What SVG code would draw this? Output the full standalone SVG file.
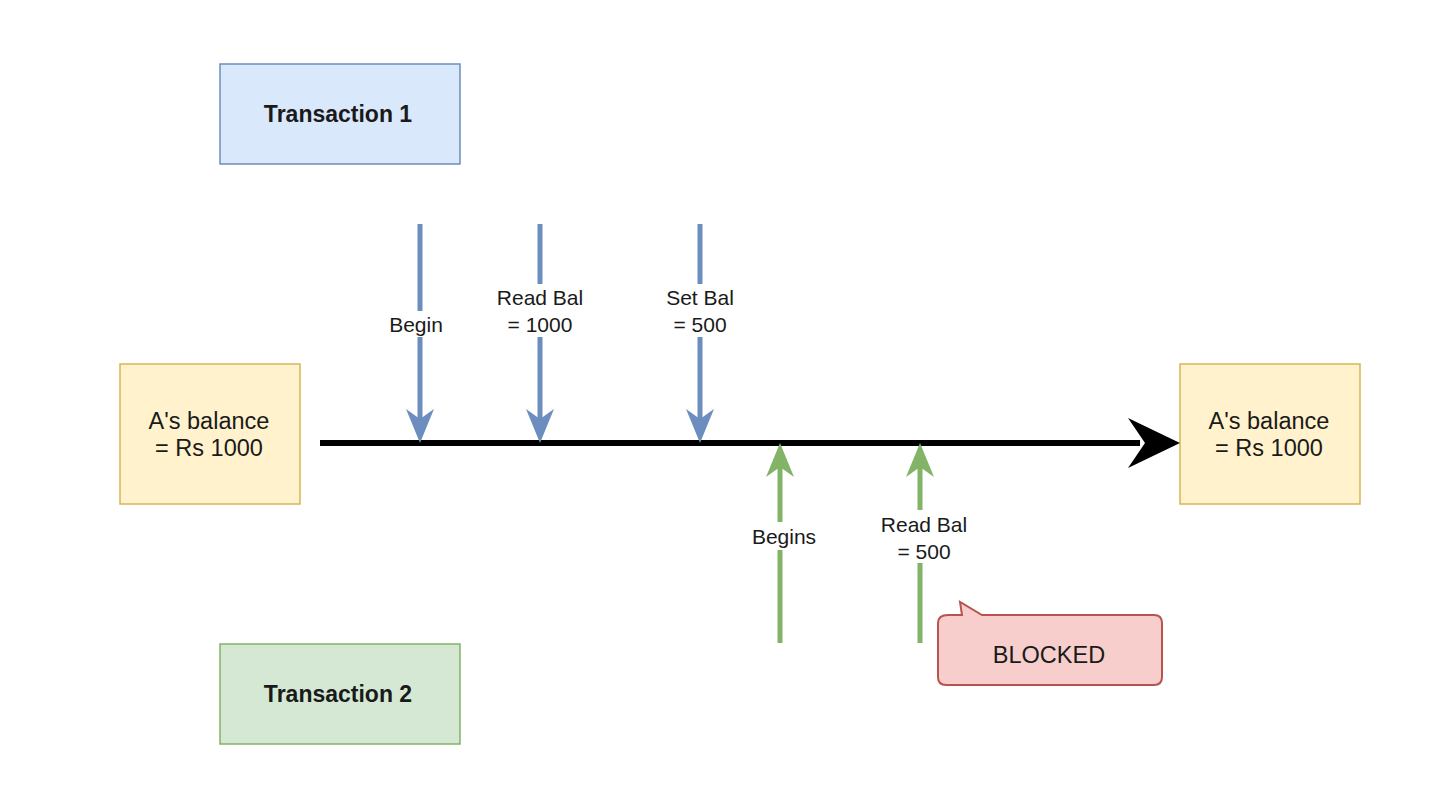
<svg xmlns="http://www.w3.org/2000/svg" width="1430" height="794" viewBox="0 0 1430 794">
<style>
.t{font-family:"Liberation Sans",Arial,Helvetica,sans-serif;fill:#1a1a1a;text-anchor:middle;dominant-baseline:central}
.lbl{font-size:21px}
.big{font-size:23.5px}
.bold{font-size:23px;font-weight:bold}
.blue{stroke:#6c8ebf;stroke-width:5;fill:none}
.green{stroke:#82b366;stroke-width:5;fill:none}
.bg{fill:#ffffff}
</style>
<rect width="1430" height="794" fill="#ffffff"/>
<g id="tx1"><rect x="220" y="64" width="240" height="100" fill="#dae8fc" stroke="#6c8ebf" stroke-width="1.5"/><text class="t bold" x="338" y="114">Transaction 1</text></g>
<g id="tx2"><rect x="220" y="644" width="240" height="100" fill="#d5e8d4" stroke="#82b366" stroke-width="1.5"/><text class="t bold" x="338" y="694">Transaction 2</text></g>
<g id="balLeft"><rect x="120" y="364" width="180" height="140" fill="#fff2cc" stroke="#d6b656" stroke-width="1.5"/><text class="t big" x="209" y="421">A's balance</text><text class="t big" x="209" y="448">= Rs 1000</text></g>
<g id="balRight"><rect x="1180" y="364" width="180" height="140" fill="#fff2cc" stroke="#d6b656" stroke-width="1.5"/><text class="t big" x="1269" y="421">A's balance</text><text class="t big" x="1269" y="448">= Rs 1000</text></g>
<g id="blocked"><path d="M948 615 L962 615 L960 602 L982 615 L1154 615 Q1162 615 1162 623 L1162 677 Q1162 685 1154 685 L946 685 Q938 685 938 677 L938 623 Q938 615 948 615 Z" fill="#f8cecc" stroke="#b85450" stroke-width="2"/><text class="t big" x="1049" y="655">BLOCKED</text></g>
<g id="connectors">
<line x1="320" y1="443" x2="1140" y2="443" stroke="#000" stroke-width="6"/>
<path d="M1180 443 L1128 418 L1145 443 L1128 468 Z" fill="#000"/>
<line class="blue" x1="420" y1="224" x2="420" y2="425"/><path d="M420 443 L406 409 L420 419 L434 409 Z" fill="#6c8ebf"/>
<line class="blue" x1="540" y1="224" x2="540" y2="425"/><path d="M540 443 L526 409 L540 419 L554 409 Z" fill="#6c8ebf"/>
<line class="blue" x1="700" y1="224" x2="700" y2="425"/><path d="M700 443 L686 409 L700 419 L714 409 Z" fill="#6c8ebf"/>
<line class="green" x1="780" y1="643" x2="780" y2="461"/><path d="M780 443 L766 477 L780 467 L794 477 Z" fill="#82b366"/>
<line class="green" x1="920" y1="643" x2="920" y2="461"/><path d="M920 443 L906 477 L920 467 L934 477 Z" fill="#82b366"/>
<rect class="bg" x="386" y="311" width="62" height="26"/><text class="t lbl" x="416" y="324">Begin</text>
<rect class="bg" x="492" y="284" width="96" height="53"/><text class="t lbl" x="540" y="297">Read Bal</text><text class="t lbl" x="540" y="324">= 1000</text>
<rect class="bg" x="658" y="284" width="84" height="53"/><text class="t lbl" x="700" y="297">Set Bal</text><text class="t lbl" x="700" y="324">= 500</text>
<rect class="bg" x="746" y="522" width="74" height="28"/><text class="t lbl" x="784" y="536">Begins</text>
<rect class="bg" x="876" y="510" width="96" height="53"/><text class="t lbl" x="924" y="524">Read Bal</text><text class="t lbl" x="924" y="551">= 500</text>
</g>
</svg>
